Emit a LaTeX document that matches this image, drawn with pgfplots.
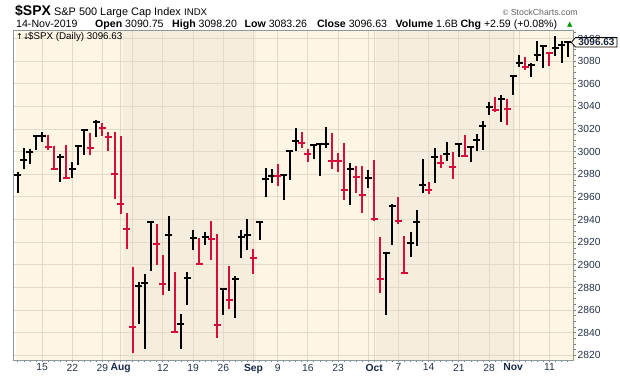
\documentclass[border=0pt]{standalone}
\usepackage{pgfplots}
\pgfplotsset{compat=1.18}
\usepackage{pgfplotstable}
\usepackage{fontspec}
\setmainfont{Liberation Sans}
\newfontfamily\dejavu{DejaVu Sans}
\definecolor{bglight}{RGB}{253,246,228}
\definecolor{bgdark}{RGB}{245,237,221}
\definecolor{gridc}{RGB}{226,218,201}
\definecolor{barred}{RGB}{210,16,58}
\definecolor{lblc}{RGB}{38,50,70}
\definecolor{monthc}{RGB}{25,40,72}
\definecolor{framec}{RGB}{140,152,158}
\definecolor{upgreen}{RGB}{0,150,0}

% black (up) bars: index close high low
\pgfplotstableread{
i c h l
0 2979.63 2981.9 2963.4
1 2993.07 3002.9 2984.6
2 2999.91 3002.3 2988.8
3 3013.77 3013.9 3001.9
4 3014.30 3017.8 3008.8
7 2995.11 2997.9 2973.4
9 2985.03 2990.7 2976.7
10 3005.47 3005.9 2988.6
11 3019.56 3019.6 2996.8
13 3025.86 3028.0 3012.6
20 2881.77 2884.9 2847.4
21 2883.98 2892.2 2825.7
22 2938.09 2938.7 2894.5
25 2926.32 2943.3 2877.1
27 2847.60 2856.7 2825.5
28 2888.68 2893.6 2865.0
29 2923.65 2931.0 2913.5
31 2924.43 2928.7 2917.9
34 2878.38 2879.3 2856.0
36 2887.94 2890.0 2853.1
37 2924.58 2930.5 2905.7
38 2926.46 2940.4 2913.3
40 2937.78 2938.8 2921.9
41 2976.00 2985.9 2959.8
42 2978.71 2985.0 2972.5
44 2979.39 2979.4 2957.0
45 3000.93 3000.9 2975.3
46 3009.57 3020.7 3000.9
49 3005.70 3006.2 2993.7
50 3006.73 3007.8 2978.6
51 3006.79 3022.0 3003.2
55 2984.87 2989.8 2953.0
58 2976.74 2983.9 2967.5
61 2910.63 2911.1 2855.9
62 2952.01 2953.7 2918.0
65 2919.40 2929.3 2907.4
66 2938.13 2948.5 2917.1
67 2970.27 2993.3 2963.7
69 2995.68 3003.3 2972.0
71 2997.95 3008.3 2991.8
73 3006.72 3007.3 2995.4
75 3004.52 3004.8 2991.2
76 3010.29 3015.5 3000.4
77 3022.55 3027.4 3001.9
78 3039.42 3044.1 3032.1
80 3046.77 3050.1 3026.0
82 3066.91 3067.0 3050.1
83 3078.27 3085.2 3074.9
85 3076.78 3078.3 3065.9
86 3085.18 3097.8 3080.2
87 3093.08 3093.1 3073.6
89 3091.84 3102.6 3084.7
90 3094.04 3098.1 3078.8
91 3096.63 3098.2 3083.3
}\spxup

% red (down) bars
\pgfplotstableread{
i c h l
5 3004.04 3015.0 3001.2
6 2984.42 3005.3 2984.3
8 2976.61 3006.0 2975.9
12 3003.67 3016.3 2997.2
14 3020.97 3025.6 3014.3
15 3013.18 3017.4 3000.3
16 2980.38 3017.4 2958.1
17 2953.56 3013.6 2945.2
18 2932.05 2945.5 2914.1
19 2844.74 2898.1 2822.1
23 2918.65 2935.8 2900.2
24 2882.70 2908.5 2873.0
26 2840.60 2893.9 2839.6
30 2900.51 2923.6 2899.6
32 2922.95 2939.1 2904.5
33 2847.11 2927.2 2835.0
35 2869.16 2898.8 2860.6
39 2906.27 2914.4 2891.9
43 2978.43 2989.4 2969.4
47 3007.39 3017.3 3002.9
48 2997.96 3002.2 2990.7
52 2992.07 3016.4 2984.7
53 2991.78 2999.2 2982.2
54 2966.60 3008.0 2957.7
56 2977.62 2987.3 2963.7
57 2961.79 2987.3 2945.5
59 2940.25 2992.5 2938.7
60 2887.61 2924.6 2874.9
63 2938.79 2959.8 2935.7
64 2893.06 2925.5 2892.7
68 2966.15 2972.8 2962.9
70 2989.69 2997.5 2985.2
72 2986.20 3000.0 2976.3
74 2995.99 3014.6 2995.0
79 3036.89 3047.9 3034.8
81 3037.56 3046.9 3023.2
84 3074.62 3084.0 3072.2
88 3087.01 3088.3 3075.8
}\spxdown

\begin{document}
\begin{tikzpicture}[x=1pt,y=1pt]
% plot background and month shading (Aug, Oct)
\fill[bglight] (16,16) rectangle (576,346);
\fill[bgdark] (122.7,16) rectangle (255.6,346);
\fill[bgdark] (376.4,16) rectangle (515.3,346);
% header
\node[anchor=base west, inner sep=0pt, font=\fontsize{14}{16}\selectfont\bfseries] at (15,361) {\$SPX};
\node[anchor=base west, inner sep=0pt, font=\fontsize{10.9}{12}\selectfont] at (54,361) {S\&P 500 Large Cap Index};
\node[anchor=base west, inner sep=0pt, font=\fontsize{9.6}{11}\selectfont] at (184,361) {INDX};
\node[anchor=base east, inner sep=0pt, font=\fontsize{8.8}{10}\selectfont, text={rgb,255:red,100;green,100;blue,100}] at (578,361) {{\dejavu\fontsize{7.5}{9}\selectfont ©}\,StockCharts.com};
\begin{scope}[every node/.style={anchor=base west, inner sep=0pt, font=\fontsize{10.6}{12}\selectfont}]
\node at (16,349) {14-Nov-2019};
\node at (95,349) {\textbf{Open} 3090.75};
\node at (172,349) {\textbf{High} 3098.20};
\node at (244.4,349) {\textbf{Low} 3083.26};
\node at (316.8,349) {\textbf{Close} 3096.63};
\node at (395.5,349) {\textbf{Volume} 1.6B};
\node at (460.3,349) {\textbf{Chg} +2.59 (+0.08\%)};
\node[text=upgreen] at (567,349.5) {\dejavu\fontsize{7}{8}\selectfont ▲};
\end{scope}
\begin{axis}[
  at={(23,14)}, anchor=south west,
  scale only axis, width=560pt, height=330pt,
  xmin=-0.662, xmax=92.05, ymin=2815.84, ymax=3107.39,
  axis line style={framec, line width=1pt},
  xtick={4,9,14,17,19,24,29,34,39,43,48,53,58,59,63,68,73,78,82,83,88},
  xticklabels={15,22,29,{\textcolor{monthc}{\textbf{Aug}}},{},12,19,26,{\textcolor{monthc}{\textbf{Sep}}},9,16,23,{},{\textcolor{monthc}{\textbf{Oct}}},7,14,21,28,{\textcolor{monthc}{\textbf{Nov}}},{},11},
  minor xtick={0,1,...,91},
  ytick={2820,2840,...,3100},
  minor ytick={2820,2825,...,3105},
  xtick pos=left, ytick pos=right, yticklabel pos=right,
  tick align=outside,
  major tick length=2pt, minor tick length=2pt,
  tick style={line width=0.8pt, color={rgb,255:red,120;green,130;blue,135}},
  xmajorgrids, ymajorgrids,
  major grid style={gridc, line width=1pt},
  /pgf/number format/assume math mode=true,
  /pgf/number format/1000 sep={},
  ticklabel style={font=\fontsize{10.3}{12}\selectfont, text=lblc, inner sep=0pt},
  xticklabel style={anchor=north, yshift=-1.5pt},
  yticklabel style={anchor=west, xshift=1.5pt},
  clip=false,
]
\addplot[black, line width=2pt, only marks, mark=-, mark size=3.5pt,
  error bars/.cd, y dir=both, y explicit, error mark=none,
  error bar style={line width=2pt, black}]
  table[x=i, y=c, y error plus expr=\thisrow{h}-\thisrow{c}, y error minus expr=\thisrow{c}-\thisrow{l}] {\spxup};
\addplot[barred, line width=2pt, only marks, mark=-, mark size=3.5pt,
  error bars/.cd, y dir=both, y explicit, error mark=none,
  error bar style={line width=2pt, barred}]
  table[x=i, y=c, y error plus expr=\thisrow{h}-\thisrow{c}, y error minus expr=\thisrow{c}-\thisrow{l}] {\spxdown};
\coordinate (pb) at (axis cs:92.05,3096.63);
\coordinate (tl) at (axis cs:-0.662,3107.39);
\end{axis}
% legend label
\node[anchor=base west, inner sep=0pt, font=\fontsize{9.8}{11}\selectfont] at ([xshift=14pt,yshift=-9.5pt]tl) {\$SPX (Daily) 3096.63};
\node[anchor=base west, inner sep=0pt, font=\fontsize{8}{9}\selectfont] at ([xshift=2pt,yshift=-9.5pt]tl) {\dejavu ↑↓};
% price box
\draw[black, line width=0.8pt, fill={rgb,255:red,255;green,252;blue,240}] ([xshift=-2.5pt]pb) -- ([xshift=1.5pt,yshift=4.7pt]pb) -- ([xshift=43pt,yshift=4.7pt]pb) -- ([xshift=43pt,yshift=-4.7pt]pb) -- ([xshift=1.5pt,yshift=-4.7pt]pb) -- cycle;
\node[inner sep=0pt, font=\fontsize{10}{11}\selectfont\bfseries, text=monthc] at ([xshift=22.5pt,yshift=-0.2pt]pb) {3096.63};
\pgfresetboundingbox
\path[use as bounding box] (0,0) rectangle (620,376);
\end{tikzpicture}
\end{document}
